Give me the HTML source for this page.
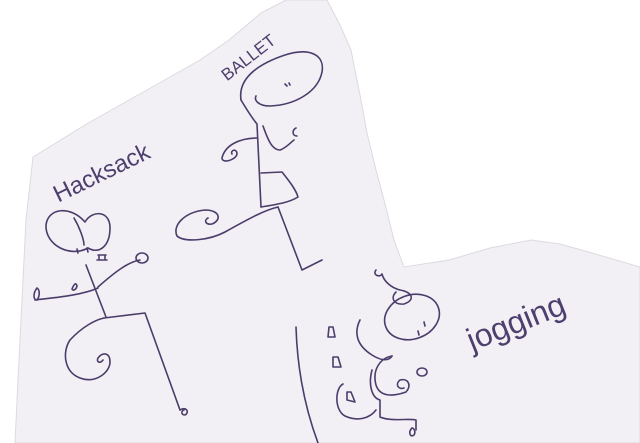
<!DOCTYPE html>
<html><head><meta charset="utf-8"><style>
html,body{margin:0;padding:0;background:#fff;width:640px;height:443px;overflow:hidden}
svg{display:block}
text{font-family:"Liberation Sans",sans-serif;fill:#4d3f6e}
</style></head><body>
<svg width="640" height="443" viewBox="0 0 640 443">
<path d="M33,157 L90,122 L147,90 L200,60 L229,40 L261,13 L286,0 L327,0 L340,25 L351,50 L360,95 L367,133 L376,170 L384,200 L394,240 L404,267 L449,260 L490,248 L531,240 L560,244 L592,253 L640,267 L640,443 L15,443 L18,380 L22,300 L26,220 Z" fill="#f2f0f4" stroke="#dcdadf" stroke-width="1"/>
<g fill="none" stroke="#4b3d6b" stroke-width="1.6" stroke-linecap="round" stroke-linejoin="round">
<!-- Hacksack figure -->
<g>
<path d="M88,248 C70,258 45,245 46,225 C48,208 70,205 85,222 C92,210 110,210 110,228 C110,245 100,255 88,248"/>
<path d="M74,218 C80,228 84,240 84,245"/>
<path d="M77,249 l1,4 M87,248 l1,4"/>
<path d="M98,255 h8 M99,255 v5 M105,255 v5 M97,260 h10"/>
<path d="M86,265 L106,317"/>
<path d="M35,300 C50,298 80,296 98,288"/>
<path d="M37,288 C33,293 33,300 37,300 C40,296 40,290 37,288"/>
<path d="M98,287 C115,272 128,262 140,260"/>
<ellipse cx="142" cy="258" rx="6" ry="5"/>
<path d="M72,289 C74,284 76,282 77,286 C76,290 73,291 72,289"/>
<path d="M104,318 L145,313 L180,410"/>
<path d="M180,410 C186,406 190,412 185,415 C180,415 182,410 184,410"/>
<path d="M104,318 C95,320 82,327 70,340 C62,352 64,372 80,378 C96,384 110,372 110,362 C110,352 102,352 98,358 C96,362 100,364 103,360"/>
</g>
<!-- Ballet figure -->
<g>
<path d="M241,100 C238,80 255,65 285,55 C310,47 325,55 322,72 C318,92 295,105 270,106 C258,106 254,100 256,96"/>
<path d="M285,84 l2,2 M289,83 l1,2"/>
<path d="M241,100 C247,110 252,118 257,124 L261,207"/>
<path d="M263,126 C268,140 272,150 280,150 C286,148 290,143 294,140"/>
<path d="M296,128 C292,130 292,136 297,136"/>
<path d="M257,138 C240,138 225,145 222,158 C222,164 236,160 237,154 C237,148 230,150 232,154"/>
<path d="M261,173 L282,172 C290,182 296,190 298,197 C290,202 280,204 261,207"/>
<path d="M278,207 L302,270 L322,260"/>
<path d="M278,207 C265,210 250,218 225,232 C210,240 185,243 177,236 C172,225 185,212 205,210 C220,210 222,220 212,224 C205,225 204,220 208,218"/>
</g>
<!-- Jogging figure -->
<g>
<ellipse cx="412" cy="317" rx="28" ry="22" transform="rotate(-20 412 317)"/>
<path d="M424,322 l1,4 M418,331 l1,4"/>
<path d="M376,270 C372,275 380,278 382,274 C384,282 392,288 400,290 C412,292 416,300 404,304 C394,305 390,298 396,292"/>
<path d="M360,320 C354,332 356,345 372,355 C380,360 388,362 392,356"/>
<path d="M392,356 C380,358 372,370 376,385 C380,398 395,396 406,392 C412,385 408,378 400,380 C395,384 398,390 404,388"/>
<ellipse cx="422" cy="372" rx="5" ry="4"/>
<path d="M372,370 C368,385 372,398 380,400 L380,417 C392,422 408,418 416,420 L416,430"/>
<path d="M412,428 C408,432 410,438 414,435 C416,432 414,428 412,428"/>
<path d="M343,384 C335,388 334,410 345,416 C358,422 370,418 376,410"/>
<path d="M329,327 l4,0 l2,10 l-7,0 Z M333,357 l5,0 l3,10 l-8,0 Z M347,392 l4,0 l4,10 l-8,-2 Z"/>
<path d="M296,327 C297,360 302,400 318,443"/>
</g>
</g>
<text x="105" y="180" font-size="24" text-anchor="middle" transform="rotate(-26 105 180)">Hacksack</text>
<text x="252" y="62" font-size="17" text-anchor="middle" transform="rotate(-38 252 62)">BALLET</text>
<text x="520" y="332" font-size="32" text-anchor="middle" transform="rotate(-22 520 332)">jogging</text>
</svg>
</body></html>
